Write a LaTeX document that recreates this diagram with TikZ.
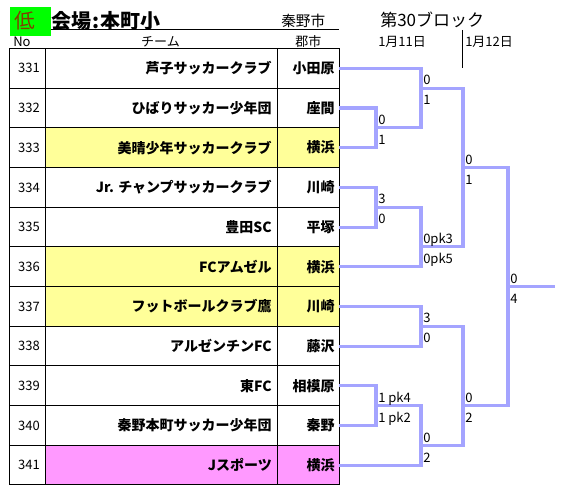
\documentclass[tikz,border=0pt]{standalone}
\usepackage{fontspec}
\setmainfont{Noto Sans CJK JP}
\definecolor{bline}{RGB}{164,164,255}
\definecolor{yel}{RGB}{255,255,153}
\definecolor{pnk}{RGB}{255,153,255}
\definecolor{lowgreen}{RGB}{0,255,0}
\definecolor{lowtxt}{RGB}{128,64,0}
\begin{document}
\begin{tikzpicture}[x=0.75pt,y=-0.75pt,
  grid/.style={draw=black,line width=0.75pt},
  brk/.style={draw=bline,line width=2.3pt,line join=miter},
  team/.style={anchor=east,inner sep=0pt,font=\bfseries\fontsize{10.5}{12}\selectfont},
  nolab/.style={anchor=center,inner sep=0pt,font=\fontsize{9.75}{11}\selectfont},
  hdr/.style={inner sep=0pt,font=\fontsize{9.75}{11}\selectfont},
  sc/.style={anchor=base west,inner sep=0pt,font=\fontsize{9.75}{11}\selectfont}]
\useasboundingbox (0,0) rectangle (564,499);
% header
\fill[lowgreen] (10,7) rectangle (51,35.7);
\node[inner sep=0pt,text=lowtxt,font=\fontsize{15.5}{17}\selectfont] (low) at (25,21) {低};
\draw[grid] (51,30) -- (339.3,30);
\node[anchor=west,inner sep=0pt,font=\bfseries\fontsize{15}{17}\selectfont] (title) at (51,20.5) {会場\kern1pt:\kern1pt本町小};
\node[anchor=west,inner sep=0pt,font=\fontsize{11}{13}\selectfont] (city0) at (281,21) {秦野市};
\node[hdr,anchor=west] (hno) at (13,42) {No};
\node[hdr] (hteam) at (160.5,42) {チーム};
\node[hdr,anchor=west] (hcity) at (295,42) {郡市};
\node[anchor=west,inner sep=0pt,font=\fontsize{12.75}{15}\selectfont] (block) at (380,20) {第30ブロック};
\node[hdr,anchor=west] (d1) at (378,42) {1月11日};
\node[hdr,anchor=west] (d2) at (465,42) {1月12日};
\coordinate (vt) at (462.7,30);
\coordinate (vb) at (462.7,68);
\draw[grid] (vt) -- (vb);
% table rows
\foreach \i/\no/\tm/\ct/\fc in {0/331/芦子サッカークラブ/小田原/white,
  1/332/ひばりサッカー少年団/座間/white,
  2/333/美晴少年サッカークラブ/横浜/yel,
  3/334/Jr. チャンプサッカークラブ/川崎/white,
  4/335/豊田SC/平塚/white,
  5/336/FCアムゼル/横浜/yel,
  6/337/フットボールクラブ鷹/川崎/yel,
  7/338/アルゼンチンFC/藤沢/white,
  8/339/東FC/相模原/white,
  9/340/秦野本町サッカー少年団/秦野/white,
  10/341/Jスポーツ/横浜/pnk}{
  \pgfmathsetmacro{\ytop}{48.5+39.68*\i}
  \pgfmathsetmacro{\ybot}{48.5+39.68*(\i+1)}
  \pgfmathsetmacro{\yc}{48.5+39.68*(\i+0.5)}
  \fill[\fc] (45,\ytop) rectangle (339.3,\ybot);
  \node[nolab] (no\i) at (29,\yc) {\no};
  \node[team] (team\i) at (272,\yc) {\tm};
  \node[team] (city\i) at (335,\yc) {\ct};
  \coordinate (t\i) at (339.3,\yc);
}
\foreach \k in {0,...,11}{
  \pgfmathsetmacro{\yy}{48.5+39.68*\k}
  \draw[grid] (9.3,\yy) -- (339.3,\yy);
}
\foreach \xx in {9.3,45,277.7,339.3}{
  \draw[grid] (\xx,48.5) -- (\xx,485);
}
% bracket junctions
\coordinate (mA) at (376,127.86);
\coordinate (mB) at (376,207.22);
\coordinate (mC) at (376,405.62);
\coordinate (mD) at (421,88.18);
\coordinate (mE) at (421,246.90);
\coordinate (mF) at (421,326.26);
\coordinate (mG) at (421,445.30);
\coordinate (mH) at (463,167.54);
\coordinate (mI) at (463,405.62);
\coordinate (mJ) at (508,286.58);
\coordinate (fin) at (555,286.58);
\draw[brk] (t1) -| (mA); \draw[brk] (t2) -| (mA);
\draw[brk] (t3) -| (mB); \draw[brk] (t4) -| (mB);
\draw[brk] (t8) -| (mC); \draw[brk] (t9) -| (mC);
\draw[brk] (t0) -| (mD); \draw[brk] (mA) -| (mD);
\draw[brk] (mB) -| (mE); \draw[brk] (t5) -| (mE);
\draw[brk] (t6) -| (mF); \draw[brk] (t7) -| (mF);
\draw[brk] (mC) -| (mG); \draw[brk] (t10) -| (mG);
\draw[brk] (mD) -| (mH); \draw[brk] (mE) -| (mH);
\draw[brk] (mF) -| (mI); \draw[brk] (mG) -| (mI);
\draw[brk] (mH) -| (mJ); \draw[brk] (mI) -| (mJ);
\draw[brk] (mJ) -- (fin);
% scores
\foreach \m/\a/\b in {A/0/1,B/3/0,C/1 pk4/1 pk2,D/0/1,E/0pk3/0pk5,F/3/0,G/0/2,H/0/1,I/0/2,J/0/4}{
  \node[sc] (s\m a) at ([shift={(2,-3.3)}]m\m) {\a};
  \node[sc] (s\m b) at ([shift={(2,16.7)}]m\m) {\b};
}
\end{tikzpicture}
\end{document}
